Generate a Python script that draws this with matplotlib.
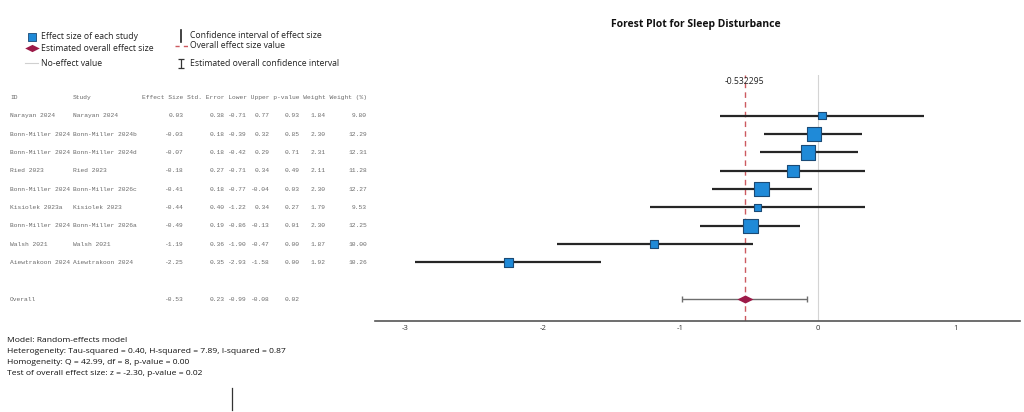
import matplotlib
matplotlib.use("Agg")
import matplotlib.pyplot as plt
import matplotlib.transforms as mtransforms

ids = ["Narayan 2024", "Bonn-Miller 2024", "Bonn-Miller 2024", "Ried 2023",
       "Bonn-Miller 2024", "Kisiolek 2023a", "Bonn-Miller 2024", "Walsh 2021",
       "Aiewtrakoon 2024"]
studies = ["Narayan 2024", "Bonn-Miller 2024b", "Bonn-Miller 2024d", "Ried 2023",
           "Bonn-Miller 2026c", "Kisiolek 2023", "Bonn-Miller 2026a", "Walsh 2021",
           "Aiewtrakoon 2024"]
effect = [0.03, -0.03, -0.07, -0.18, -0.41, -0.44, -0.49, -1.19, -2.25]
std_err = [0.38, 0.18, 0.18, 0.27, 0.18, 0.40, 0.19, 0.36, 0.35]
lower = [-0.71, -0.39, -0.42, -0.71, -0.77, -1.22, -0.86, -1.90, -2.93]
upper = [0.77, 0.32, 0.29, 0.34, -0.04, 0.34, -0.13, -0.47, -1.58]
p_value = [0.93, 0.85, 0.71, 0.49, 0.03, 0.27, 0.01, 0.00, 0.00]
weight = [1.84, 2.30, 2.31, 2.11, 2.30, 1.79, 2.30, 1.87, 1.92]
weight_pct = [9.80, 12.29, 12.31, 11.28, 12.27, 9.53, 12.25, 10.00, 10.26]

overall = -0.532295
overall_se = 0.23
overall_lower = -0.99
overall_upper = -0.08
overall_p = 0.02

x_ticks = [-3, -2, -1, 0, 1]
headers = ["Effect Size", "Std. Error", "Lower", "Upper", "p-value", "Weight",
           "Weight (%)"]

notes = [
    "Model: Random-effects model",
    "Heterogeneity: Tau-squared = 0.40, H-squared = 7.89, I-squared = 0.87",
    "Homogeneity: Q = 42.99, df = 8, p-value = 0.00",
    "Test of overall effect size: z = -2.30, p-value = 0.02",
]

SANS = "Open Sans"
MONO = "Liberation Mono"
BLUE = "#1f8ad8"
BLUE_EDGE = "#1b4a75"
CRIMSON = "#9c1a48"
RED_DASH = "#cc5a60"

W, H = 1024, 412
fig = plt.figure(figsize=(W / 100, H / 100), dpi=100)

# overlay in pixel coordinates for the free text
lay = fig.add_axes([0, 0, 1, 1])
lay.set_xlim(0, W)
lay.set_ylim(H, 0)
lay.axis("off")

# forest plot area
ax_left, ax_right, ax_top, ax_bot = 375, 1020, 75, 321
ax = fig.add_axes([ax_left / W, 1 - ax_bot / H, (ax_right - ax_left) / W,
                   (ax_bot - ax_top) / H])
ax.patch.set_alpha(0)

rows = list(range(len(effect)))
overall_row = len(effect) + 1
ax.set_ylim(11.2, -2.23)
ax.set_xlim(-3.22, 1.47)

for s in ["top", "left", "right"]:
    ax.spines[s].set_visible(False)
ax.spines["bottom"].set_color("#555555")
ax.spines["bottom"].set_linewidth(1.2)
ax.set_yticks([])
ax.set_xticks(x_ticks)
ax.set_xticklabels([str(t) for t in x_ticks], fontsize=5.5, color="#333333",
                   family=SANS)
ax.tick_params(axis="x", length=0, pad=3)

ax.axvline(0, color="#d4d4d4", lw=0.8, zorder=1)
ax.axvline(overall, color=RED_DASH, lw=1.0, ls=(0, (4, 3)), zorder=1)

ax.hlines(rows, lower, upper, color="#262626", lw=1.6, zorder=2)

wmin, wmax = min(weight), max(weight)
sizes = [((6.5 + (w - wmin) * 8 / (wmax - wmin)) * 0.72) ** 2 for w in weight]
ax.scatter(effect, rows, s=sizes, marker="s", color=BLUE, edgecolor=BLUE_EDGE,
           linewidth=0.8, zorder=3)

ax.errorbar([overall], [overall_row],
            xerr=[[overall - overall_lower], [overall_upper - overall]],
            fmt="none", ecolor="#6e6e6e", elinewidth=1.0, capsize=2.5,
            capthick=1.0, zorder=2)
diamond = [(-1, 0), (0, 0.5), (1, 0), (0, -0.5), (-1, 0)]
ax.scatter([overall], [overall_row], marker=diamond, s=135, color=CRIMSON,
           linewidth=0, zorder=3)

lab_tr = mtransforms.blended_transform_factory(ax.transData, lay.transData)
ax.text(overall, 81, f"{overall:.6f}", transform=lab_tr, fontsize=6.2,
        family=SANS, color="#222222", ha="center", va="center")

fig.text(696 / W, 1 - 24 / H, "Forest Plot for Sleep Disturbance",
         fontsize=7.5, fontweight="bold", family=SANS, ha="center",
         va="center", color="#111111")

# table to the left of the plot, monospaced columns
tab_fs = 4.5
char_w = tab_fs * 0.6 / 72 * 100
head_x = 142
right_x = []
pos = 0
for h in headers:
    pos += len(h)
    right_x.append(head_x + pos * char_w)
    pos += 1

tab_tr = mtransforms.blended_transform_factory(lay.transData, ax.transData)
tkw = dict(transform=tab_tr, fontsize=tab_fs, family=MONO, color="#6a6a6a",
           va="center", clip_on=False)
ax.text(10, -1, "ID", ha="left", **tkw)
ax.text(73, -1, "Study", ha="left", **tkw)
ax.text(head_x, -1, " ".join(headers), ha="left", **tkw)

for i in rows:
    cells = [effect[i], std_err[i], lower[i], upper[i], p_value[i], weight[i],
             weight_pct[i]]
    ax.text(10, i, ids[i], ha="left", **tkw)
    ax.text(73, i, studies[i], ha="left", **tkw)
    for v, x in zip(cells, right_x):
        ax.text(x, i, f"{v:.2f}", ha="right", **tkw)

ax.text(10, overall_row, "Overall", ha="left", **tkw)
for v, x in zip([overall, overall_se, overall_lower, overall_upper, overall_p],
                right_x):
    ax.text(x, overall_row, f"{v:.2f}", ha="right", **tkw)

# legend block
lkw = dict(fontsize=6.2, family=SANS, color="#222222", va="center")
lay.scatter([32], [36.5], marker="s", s=34, color=BLUE, edgecolor=BLUE_EDGE,
            linewidth=0.6)
lay.text(41, 36.5, "Effect size of each study", **lkw)
lay.scatter([32], [48], marker=diamond, s=110, color=CRIMSON, linewidth=0)
lay.text(41, 48, "Estimated overall effect size", **lkw)
lay.plot([25, 38], [63, 63], color="#d0d0d0", lw=0.8)
lay.text(41, 63, "No-effect value", **lkw)

lay.plot([181, 181], [30, 42], color="#222222", lw=1.2)
lay.text(190, 35.5, "Confidence interval of effect size", **lkw)
lay.plot([175, 189], [46, 46], color=RED_DASH, lw=1.0, ls=(0, (3, 3)))
lay.text(190, 45.5, "Overall effect size value", **lkw)
lay.errorbar([181], [63], yerr=[[4.5], [4.5]], fmt="none", ecolor="#333333",
             elinewidth=0.9, capsize=2.5, capthick=0.9)
lay.text(190, 63, "Estimated overall confidence interval", **lkw)

# model notes
for k, line in enumerate(notes):
    lay.text(7, 341 + k * 10.7, line, fontsize=6.1, family=SANS,
             color="#111111", va="center")

lay.plot([232, 232], [388, 410], color="#333333", lw=0.9)

fig.savefig("out.png", dpi=100)
